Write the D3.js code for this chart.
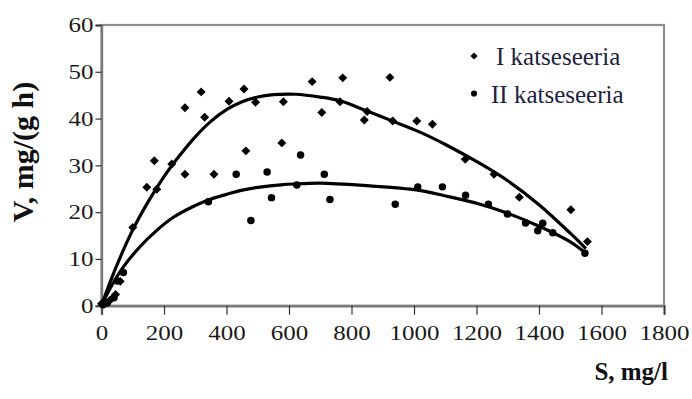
<!DOCTYPE html>
<html>
<head>
<meta charset="utf-8">
<script src="https://cdn.jsdelivr.net/npm/d3@7"></script>
<style>
body{margin:0;background:#fff;}
svg{display:block;}
text{font-family:"Liberation Serif","Times New Roman",serif;}
</style>
</head>
<body>
<div id="chart"></div>
<script>
// measured points, series I (diamonds)
let s1_x=[0,28,45,60,100,145,169,177,225,267,267,319,330,360,408,456,462,493,577,582,674,705,763,772,841,850,923,932,1009,1059,1164,1256,1337,1502,1555];
let s1_y=[0.4,1.2,2.4,5.2,16.7,25.3,31,24.9,30.3,42.3,28.1,45.7,40.3,28.1,43.7,46.3,33.1,43.5,34.8,43.6,47.9,41.3,43.6,48.7,39.7,41.5,48.8,39.5,39.5,38.8,31.3,28.1,23.2,20.5,13.7];
// series II (circles)
let s2_x=[5,18,40,50,70,342,431,478,530,544,625,637,713,731,940,1012,1091,1165,1238,1299,1357,1396,1412,1444,1547];
let s2_y=[0.2,0.6,1.7,5.3,7.1,22.2,28.1,18.2,28.6,23.1,25.8,32.2,28.1,22.7,21.7,25.4,25.4,23.6,21.7,19.6,17.7,16.0,17.6,15.6,11.2];
// trend lines
let c1_x=[0,25,50,100,150,200,250,300,350,400,450,500,550,620,700,763,850,934,1019,1105,1211,1300,1400,1500,1550];
let c1_y=[0,4.6,8.8,16.2,22.3,27.6,32.1,36.1,39.4,41.9,43.6,44.6,45.1,45.2,44.6,43.8,41.6,39.4,37.1,34.3,30.4,26.7,21.6,15.5,12.2];
let c2_x=[0,30,70,123,175,230,290,342,400,443,500,582,650,700,838,1012,1105,1211,1286,1393,1499,1550];
let c2_y=[0,4,8.3,12.6,16,18.9,21.1,22.6,23.8,24.6,25.3,25.9,26.1,26.2,25.7,24.7,23.4,21.7,20.1,17.2,13.7,11.2];
let x_ticks=[0,200,400,600,800,1000,1200,1400,1600,1800];
let y_ticks=[0,10,20,30,40,50,60];
let legend_names=["I katseseeria","II katseseeria"];

var W=692,H=399;
var m_left=101.5,m_right=664,m_top=25,m_bottom=305.7;

var svg=d3.select("#chart").append("svg")
    .attr("width",W).attr("height",H);

var x=d3.scaleLinear().domain([0,1800]).range([m_left,m_right]);
var y=d3.scaleLinear().domain([0,60]).range([m_bottom,m_top]);

// frame
svg.append("rect")
    .attr("x",m_left).attr("y",m_top)
    .attr("width",m_right-m_left).attr("height",m_bottom-m_top)
    .attr("fill","none").attr("stroke","#8e8e8e").attr("stroke-width",2.2);

// axes
var xa=svg.append("g").attr("transform","translate(0,"+m_bottom+")")
    .call(d3.axisBottom(x).tickValues(x_ticks).tickSize(9).tickFormat(d3.format("d")));
var ya=svg.append("g").attr("transform","translate("+m_left+",0)")
    .call(d3.axisLeft(y).tickValues(y_ticks).tickSize(6).tickFormat(d3.format("d")));
for (let a of [xa,ya]){
    a.select(".domain").attr("stroke","#7a7a7a").attr("stroke-width",2.4);
    a.selectAll(".tick line").attr("stroke","#333").attr("stroke-width",1.2);
    a.selectAll(".tick text").attr("fill","#1a1a1a").style("font-size","20px")
        .attr("font-family","Liberation Serif");
}
xa.selectAll(".tick text").attr("y",0).attr("dy",0)
    .attr("transform","translate(0,34) scale(1.25,1)");
ya.selectAll(".tick text").attr("x",0).attr("dy","0.34em")
    .attr("text-anchor","end")
    .attr("transform","translate(-8,0) scale(1.25,1)");

// lines
var line=d3.line().curve(d3.curveCatmullRom.alpha(0.5))
    .x(function(d){return x(d[0]);})
    .y(function(d){return y(d[1]);});
svg.append("path").datum(d3.zip(c1_x,c1_y))
    .attr("d",line).attr("fill","none").attr("stroke","#000").attr("stroke-width",3.2);
svg.append("path").datum(d3.zip(c2_x,c2_y))
    .attr("d",line).attr("fill","none").attr("stroke","#000").attr("stroke-width",3.2);

// markers
var diamond=d3.symbol().type(d3.symbolSquare).size(40);
var circle=d3.symbol().type(d3.symbolCircle).size(44);
svg.append("g").selectAll("path").data(d3.zip(s1_x,s1_y)).enter().append("path")
    .attr("d",diamond)
    .attr("transform",function(d){return "translate("+x(d[0])+","+y(d[1])+") rotate(45)";})
    .attr("fill","#000");
svg.append("g").selectAll("path").data(d3.zip(s2_x,s2_y)).enter().append("path")
    .attr("d",circle)
    .attr("transform",function(d){return "translate("+x(d[0])+","+y(d[1])+")";})
    .attr("fill","#000");

// legend
var lg=svg.append("g");
lg.append("path").attr("d",d3.symbol().type(d3.symbolSquare).size(26))
    .attr("transform","translate(474,56) rotate(45)").attr("fill","#000");
lg.append("path").attr("d",d3.symbol().type(d3.symbolCircle).size(30))
    .attr("transform","translate(474,93.5)").attr("fill","#000");
lg.append("text").attr("x",496).attr("y",65).text(legend_names[0])
    .attr("fill","#1b2140").style("font-size","25px");
lg.append("text").attr("x",491).attr("y",103).text(legend_names[1])
    .attr("fill","#1b2140").style("font-size","25px");

// axis titles
svg.append("text").attr("x",668).attr("y",380).attr("text-anchor","end")
    .attr("font-weight","bold").style("font-size","25px").attr("fill","#111")
    .text("S, mg/l");
svg.append("text").attr("transform","translate(33,152) rotate(-90)")
    .attr("text-anchor","middle").attr("font-weight","bold")
    .style("font-size","30px").attr("fill","#111")
    .text("V, mg/(g h)");
</script>
</body>
</html>
